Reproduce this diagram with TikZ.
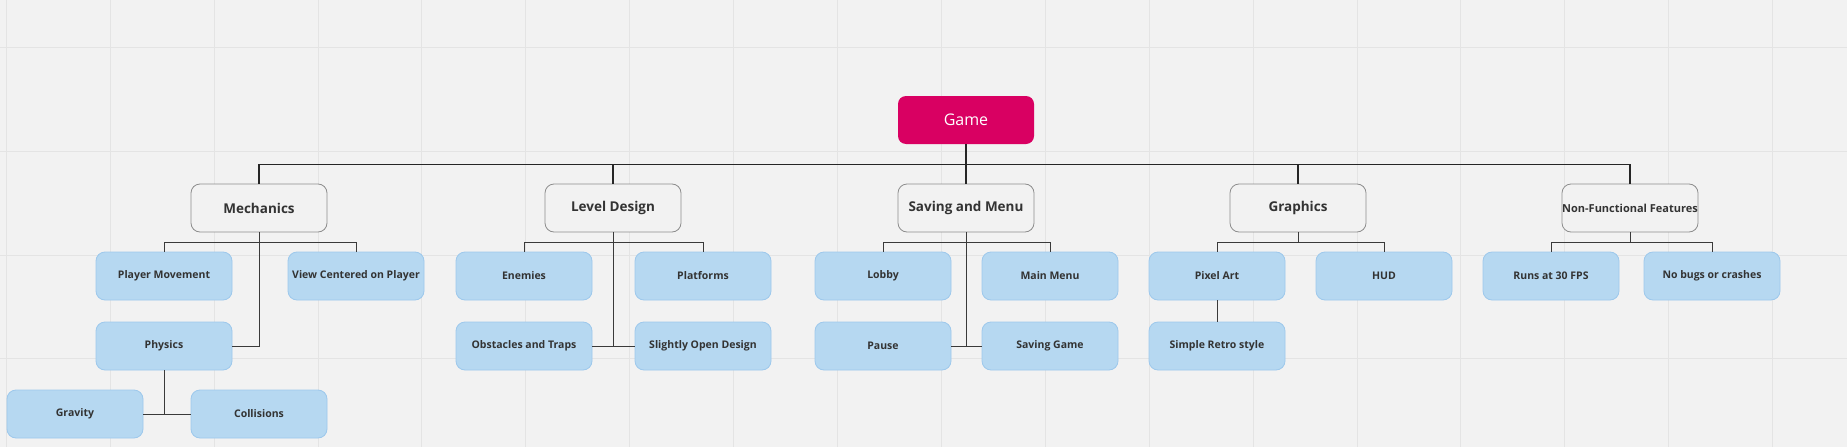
\documentclass[tikz,border=0pt]{standalone}
\usepackage{fontspec}
\setmainfont{Open Sans}
\definecolor{bg}{HTML}{F2F2F2}
\definecolor{gridc}{HTML}{E4E4E4}
\definecolor{gamec}{HTML}{D90062}
\definecolor{leaffill}{HTML}{B6D8F1}
\definecolor{leafdraw}{HTML}{9DC8EC}
\definecolor{txt}{HTML}{333333}
\definecolor{lvldraw}{HTML}{8C8C8C}
\definecolor{linec}{HTML}{3A3A3A}
\tikzset{
  rootbox/.style={rectangle, rounded corners=8pt, fill=gamec, draw=none, minimum width=136pt, minimum height=48pt, text=white, font=\fontsize{16}{18}\selectfont, inner sep=0pt},
  lvlbox/.style={rectangle, rounded corners=9pt, fill=bg, draw=lvldraw, line width=0.8pt, minimum width=136pt, minimum height=48pt, text=txt, font=\fontsize{13.5}{15}\selectfont\bfseries, inner sep=0pt},
  leafbox/.style={rectangle, rounded corners=9pt, fill=leaffill, draw=leafdraw, line width=0.8pt, minimum width=136pt, minimum height=48pt, text=txt, font=\fontsize{10.5}{12}\selectfont\bfseries, inner sep=0pt},
  conn/.style={draw=linec, line width=1pt},
  mainconn/.style={draw=black!85, line width=1.2pt}
}
\begin{document}
\begin{tikzpicture}[x=1pt,y=-1pt]
\path[fill=bg] (0,0) rectangle (1847,447);
\useasboundingbox (0,0) rectangle (1847,447);
% grid
\foreach \i in {0,...,17} {
  \draw[gridc, line width=0.8pt] ({6.2+103.9*\i},0) -- ({6.2+103.9*\i},447);
}
\foreach \j in {47,151,255,358} {
  \draw[gridc, line width=0.8pt] (0,\j) -- (1847,\j);
}
% root
\node[rootbox] (game) at (966,120) {Game};
% level 1
\node[lvlbox] (mech) at (259,208) {Mechanics};
\node[lvlbox] (lvl) at (613,208) {Level Design};
\node[lvlbox] (save) at (966,208) {Saving and Menu};
\node[lvlbox] (gfx) at (1298,208) {Graphics};
\node[lvlbox, font=\fontsize{11}{13}\selectfont\bfseries] (nff) at (1630,208) {Non-Functional Features};
% leaves: Mechanics
\node[leafbox] (pm) at (164,276) {Player Movement};
\node[leafbox] (vc) at (356,276) {View Centered on Player};
\node[leafbox] (phys) at (164,346) {Physics};
\node[leafbox] (grav) at (75,414) {Gravity};
\node[leafbox] (coll) at (259,414) {Collisions};
% Level design
\node[leafbox] (enem) at (524,276) {Enemies};
\node[leafbox] (plat) at (703,276) {Platforms};
\node[leafbox] (obst) at (524,346) {Obstacles and Traps};
\node[leafbox] (sod) at (703,346) {Slightly Open Design};
% Saving
\node[leafbox] (lobby) at (883,276) {Lobby};
\node[leafbox] (mmenu) at (1050,276) {Main Menu};
\node[leafbox] (pause) at (883,346) {Pause};
\node[leafbox] (sgame) at (1050,346) {Saving Game};
% Graphics
\node[leafbox] (pix) at (1217,276) {Pixel Art};
\node[leafbox] (hud) at (1384,276) {HUD};
\node[leafbox] (retro) at (1217,346) {Simple Retro style};
% NFF
\node[leafbox] (fps) at (1551,276) {Runs at 30 FPS};
\node[leafbox] (bugs) at (1712,276) {No bugs or crashes};
% connectors root
\foreach \n in {mech,lvl,save,gfx,nff} {
  \draw[mainconn] (game.south) -- ++(0,20) -| (\n.north);
}
% Mechanics
\draw[conn] (mech.south) -- ++(0,10) -| (pm.north);
\draw[conn] (mech.south) -- ++(0,10) -| (vc.north);
\draw[conn] (mech.south) |- (phys.east);
\draw[conn] (grav.east) -- (coll.west);
\draw[conn] (phys.south) -- (phys.south |- grav.east);
% Level design
\draw[conn] (lvl.south) -- ++(0,10) -| (enem.north);
\draw[conn] (lvl.south) -- ++(0,10) -| (plat.north);
\draw[conn] (lvl.south) -- (lvl.south |- obst.east);
\draw[conn] (obst.east) -- (sod.west);
% Saving
\draw[conn] (save.south) -- ++(0,10) -| (lobby.north);
\draw[conn] (save.south) -- ++(0,10) -| (mmenu.north);
\draw[conn] (save.south) -- (save.south |- pause.east);
\draw[conn] (pause.east) -- (sgame.west);
% Graphics
\draw[conn] (gfx.south) -- ++(0,10) -| (pix.north);
\draw[conn] (gfx.south) -- ++(0,10) -| (hud.north);
\draw[conn] (pix.south) -- (retro.north);
% NFF
\draw[conn] (nff.south) -- ++(0,10) -| (fps.north);
\draw[conn] (nff.south) -- ++(0,10) -| (bugs.north);
\end{tikzpicture}
\end{document}
